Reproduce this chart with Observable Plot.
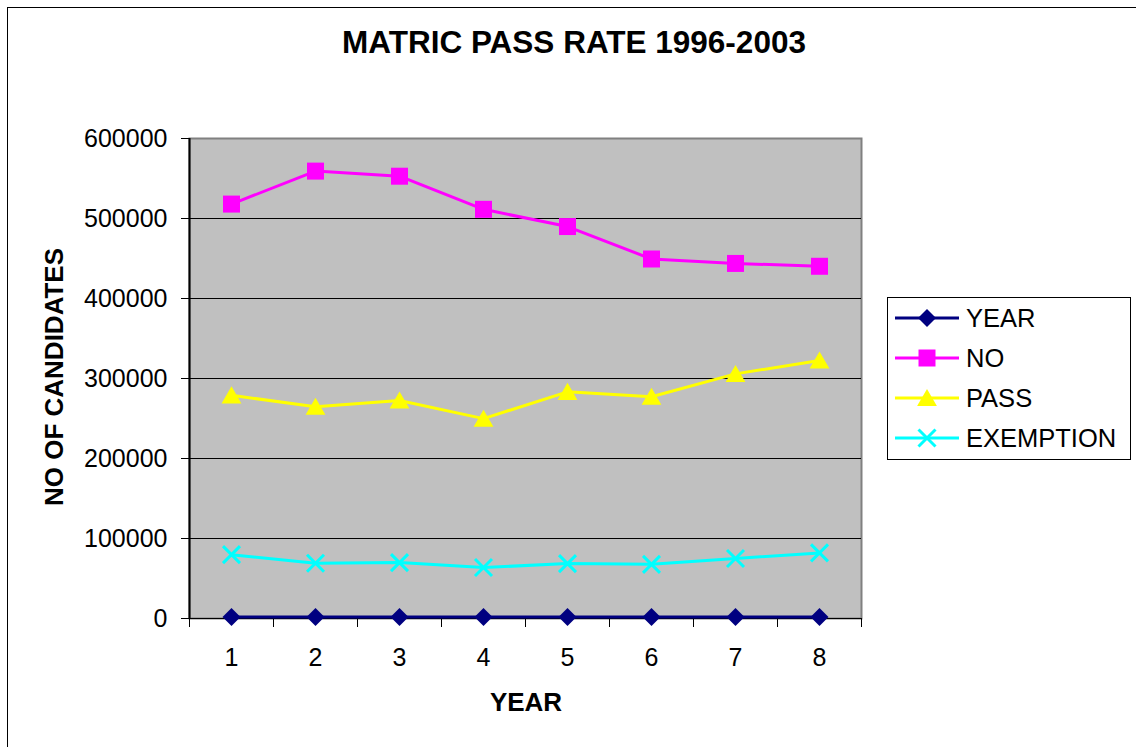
<!DOCTYPE html>
<html><head><meta charset="utf-8">
<script src="https://cdn.jsdelivr.net/npm/d3@7"></script>
<script src="https://cdn.jsdelivr.net/npm/@observablehq/plot@0.6"></script>
<style>
body{margin:0;background:#fff;}
#wrap{position:relative;width:1136px;height:747px;overflow:hidden;background:#fff;}
#border{position:absolute;left:7px;top:7px;width:1160px;height:780px;border:1px solid #000;box-sizing:border-box;}
#wrap svg{position:absolute;left:0;top:0;}
</style>
</head><body>
<div id="wrap"><div id="border"></div></div>
<script>
// ---- data ----
const categories = [1, 2, 3, 4, 5, 6, 7, 8];
const yearValues = [1996, 1997, 1998, 1999, 2000, 2001, 2002, 2003];
const noValues = [518032, 559233, 552862, 511474, 489941, 449371, 443821, 440267];
const passValues = [278958, 264795, 272488, 249831, 283294, 277206, 305774, 322492];
const exemptionValues = [79768, 69007, 69856, 63725, 68626, 67707, 75048, 82010];
const seriesNames = ["YEAR", "NO", "PASS", "EXEMPTION"];
const yTicks = [0, 100000, 200000, 300000, 400000, 500000, 600000];
const gridValues = [100000, 200000, 300000, 400000, 500000];
const titleText = "MATRIC PASS RATE 1996-2003";
const xLabel = "YEAR";
const yLabel = "NO OF CANDIDATES";

// ---- symbols ----
const diamond = {draw(c, s){ const r = Math.sqrt(s/Math.PI); c.moveTo(0,-r); c.lineTo(r,0); c.lineTo(0,r); c.lineTo(-r,0); c.closePath(); }};
const square = {draw(c, s){ const r = Math.sqrt(s/Math.PI); c.rect(-r,-r,2*r,2*r); }};
const triangle = {draw(c, s){ const r = Math.sqrt(s/Math.PI); c.moveTo(0,-r); c.lineTo(r*1.1,r*0.9); c.lineTo(-r*1.1,r*0.9); c.closePath(); }};
const cross = {draw(c, s){ const r = Math.sqrt(s/Math.PI); c.moveTo(-r,-r); c.lineTo(r,r); c.moveTo(r,-r); c.lineTo(-r,r); }};

const seriesDefs = [
  {name: seriesNames[0], values: yearValues, color: "#000080", symbol: diamond, r: 9, filled: true},
  {name: seriesNames[1], values: noValues, color: "#FF00FF", symbol: square, r: 8.5, filled: true},
  {name: seriesNames[2], values: passValues, color: "#FFFF00", symbol: triangle, r: 9, filled: true},
  {name: seriesNames[3], values: exemptionValues, color: "#00FFFF", symbol: cross, r: 8.5, filled: false}
];
const boundaries = d3.range(categories.length + 1).map(i => categories[0] - 0.5 + i);

const seriesMarks = seriesDefs.flatMap(s => {
  const rows = categories.map((c, i) => ({x: c, y: s.values[i]}));
  return [
    Plot.line(rows, {x: "x", y: "y", stroke: s.color, strokeWidth: 3}),
    s.filled
      ? Plot.dot(rows, {x: "x", y: "y", symbol: s.symbol, r: s.r, fill: s.color, stroke: "none"})
      : Plot.dot(rows, {x: "x", y: "y", symbol: s.symbol, r: s.r, fill: "none", stroke: s.color, strokeWidth: 3})
  ];
});

const chart = Plot.plot({
  width: 1136, height: 747,
  marginLeft: 189, marginRight: 275, marginTop: 138, marginBottom: 129,
  x: {type: "linear", domain: [boundaries[0], boundaries[boundaries.length - 1]]},
  y: {domain: [yTicks[0], yTicks[yTicks.length - 1]]},
  style: {fontFamily: "'Liberation Sans', Arial, sans-serif", fontSize: "25px", color: "#000", background: "transparent"},
  marks: [
    Plot.frame({fill: "#C0C0C0", stroke: "#808080", strokeWidth: 2}),
    Plot.gridY(gridValues, {stroke: "#000", strokeOpacity: 1, strokeWidth: 1}),
    Plot.ruleX([boundaries[0]], {stroke: "#000", strokeWidth: 2}),
    Plot.ruleY([yTicks[0]], {stroke: "#000", strokeWidth: 1}),
    Plot.axisY(yTicks, {tickSize: 8, tickPadding: 14, tickFormat: d3.format("d"), label: null, fontSize: 25}),
    Plot.axisX(boundaries, {tickSize: 9, tickFormat: () => "", label: null}),
    Plot.axisX(categories, {tickSize: 0, tickPadding: 30, tickFormat: d => String(d), label: null, fontSize: 25}),
    ...seriesMarks
  ]
});
document.getElementById("wrap").appendChild(chart);

const svg = d3.select(chart);
const ff = "'Liberation Sans', Arial, sans-serif";
svg.append("text").attr("x", 574).attr("y", 53).attr("text-anchor", "middle")
  .attr("font-family", ff).attr("font-weight", "bold").attr("font-size", 31.5).attr("fill", "#000").text(titleText);
svg.append("text").attr("x", 526).attr("y", 711).attr("text-anchor", "middle")
  .attr("font-family", ff).attr("font-weight", "bold").attr("font-size", 26).attr("fill", "#000").text(xLabel);
svg.append("text").attr("transform", "translate(63,377) rotate(-90)").attr("text-anchor", "middle")
  .attr("font-family", ff).attr("font-weight", "bold").attr("font-size", 26).attr("fill", "#000").text(yLabel);

// legend
const lg = svg.append("g").attr("text-anchor", "start");
lg.append("rect").attr("x", 887.5).attr("y", 297.5).attr("width", 243).attr("height", 162)
  .attr("fill", "#fff").attr("stroke", "#000").attr("stroke-width", 1);
seriesDefs.forEach((s, i) => {
  const cy = 318 + i * 40;
  lg.append("line").attr("x1", 895).attr("x2", 959).attr("y1", cy).attr("y2", cy)
    .attr("stroke", s.color).attr("stroke-width", 3);
  const p = d3.path(); s.symbol.draw(p, Math.PI * s.r * s.r);
  lg.append("path").attr("d", p.toString()).attr("transform", `translate(927,${cy})`)
    .attr("fill", s.filled ? s.color : "none").attr("stroke", s.filled ? "none" : s.color).attr("stroke-width", 3);
  lg.append("text").attr("x", 966).attr("y", cy + 9).attr("text-anchor", "start").attr("font-family", ff).attr("font-size", 25.5)
    .attr("fill", "#000").text(s.name);
});
</script>
</body></html>
